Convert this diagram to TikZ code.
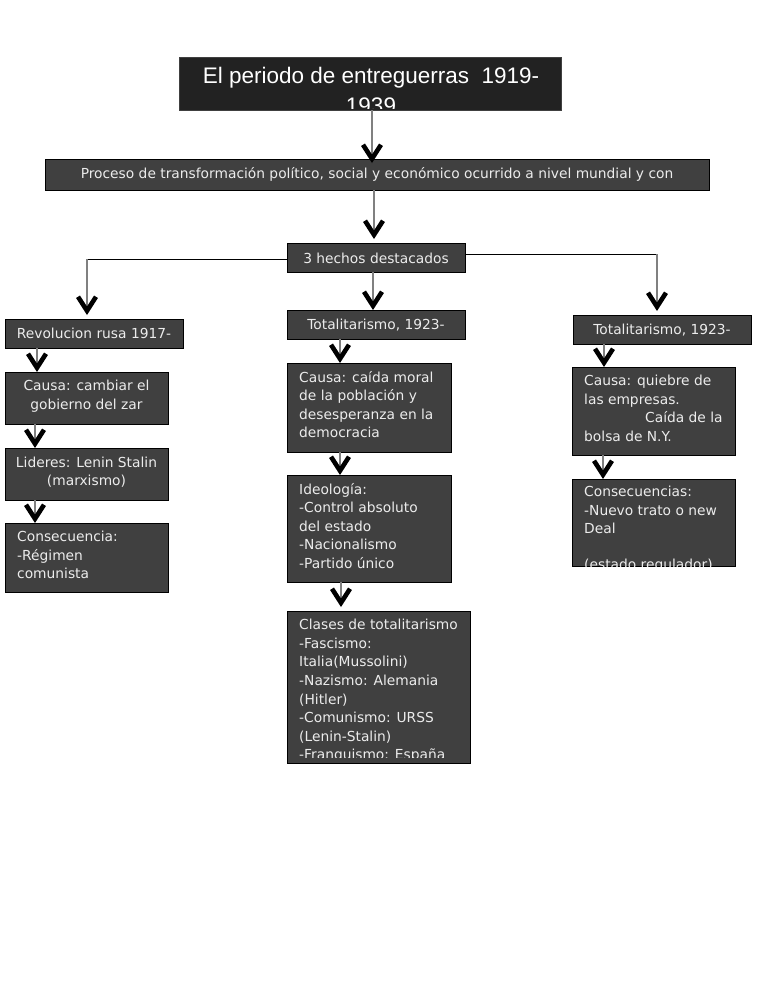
\documentclass[tikz,border=0pt]{standalone}
\usepackage{fontspec}
\setmainfont{DejaVu Sans}
\newfontfamily\titlefont{Liberation Sans}
\usetikzlibrary{arrows.meta,calc}
\definecolor{boxfill}{HTML}{404040}
\definecolor{titlefill}{HTML}{222222}
\definecolor{txtcol}{HTML}{ECECEC}
\tikzset{
  boxst/.style={draw=black, line width=0.9pt, fill=boxfill, inner sep=0pt, outer sep=0pt},
  titlest/.style={draw=black!75, line width=1pt, fill=titlefill, inner sep=0pt, outer sep=0pt},
  txt/.style={text=txtcol, inner sep=0pt, font=\fontsize{13.8}{18.5}\selectfont, align=left},
  ctxt/.style={text=txtcol, inner sep=0pt, font=\fontsize{13.8}{18.5}\selectfont, align=center},
  conn/.style={draw=black!50, line width=1.8pt, -{Straight Barb[length=14pt, width=18pt, line width=4.6pt, color=black]}},
  hline/.style={draw=black, line width=0.9pt},
}
\newcommand{\cbox}[6]{\node[#6, minimum width=#4pt, minimum height=#5pt, anchor=north west] (#1) at (#2,#3) {};}
\begin{document}
\begin{tikzpicture}[x=1pt,y=-1pt]
\useasboundingbox (0,0) rectangle (768,994);
\fill[white] (0,0) rectangle (768,994);
% boxes
\cbox{title}{179}{57}{382}{53}{titlest}
\cbox{proc}{45}{159}{664}{31}{boxst}
\cbox{hechos}{287}{243}{178}{29}{boxst}
\cbox{rev}{5}{319}{178}{29}{boxst}
\cbox{totC}{287}{310}{178}{29}{boxst}
\cbox{totR}{573}{315}{178}{29}{boxst}
\cbox{causaL}{5}{372}{163}{52}{boxst}
\cbox{lidL}{5}{448}{163}{52}{boxst}
\cbox{consL}{5}{523}{163}{69}{boxst}
\cbox{causaC}{287}{363}{164}{89}{boxst}
\cbox{ideoC}{287}{475}{164}{107}{boxst}
\cbox{claseC}{287}{611}{183}{152}{boxst}
\cbox{causaR}{572}{367}{163}{88}{boxst}
\cbox{consR}{572}{479}{163}{87}{boxst}
% texts
\begin{scope}\clip ([yshift=1.5]title.south west) rectangle (title.north east);
\node[text=white, inner sep=0pt, font=\titlefont\fontsize{22.5}{30}\selectfont, align=center, anchor=north] (titleT) at (371,67) {El periodo de entreguerras\ \ 1919-\\1939};
\end{scope}
\node[ctxt] (procT) at (377,174.5) {Proceso de transformación político, social y económico ocurrido a nivel mundial y con};
\node[ctxt] (hechosT) at (376,258) {3 hechos destacados};
\node[ctxt] (revT) at (94,333.5) {Revolucion rusa 1917-};
\node[ctxt] (totCT) at (376,325) {Totalitarismo, 1923-};
\node[ctxt] (totRT) at (662,330) {Totalitarismo, 1923-};
\node[ctxt] (causaLT) at (86.5,396) {Causa: cambiar el\\gobierno del zar};
\node[ctxt] (lidLT) at (86.5,472) {Lideres: Lenin Stalin\\(marxismo)};
\node[txt, anchor=north west] (consLT) at (17,531) {Consecuencia:\\-Régimen\\comunista};
\node[txt, anchor=north west] (causaCT) at (299,371) {Causa: caída moral\\de la población y\\desesperanza en la\\democracia};
\node[txt, anchor=north west] (ideoCT) at (299,483) {Ideología:\\-Control absoluto\\del estado\\-Nacionalismo\\-Partido único};
\begin{scope}\clip (claseC.south west) ++(0,-5.5) rectangle (claseC.north east);
\node[txt, anchor=north west, font=\fontsize{13.8}{18.6}\selectfont] (claseCT) at (299,619) {Clases de totalitarismo\\-Fascismo:\\Italia(Mussolini)\\-Nazismo: Alemania\\(Hitler)\\-Comunismo: URSS\\(Lenin-Stalin)\\-Franquismo: España};
\end{scope}
\node[txt, anchor=north west] (causaRT) at (584,375) {Causa: quiebre de\\las empresas.\\\hspace*{61pt}Caída de la\\bolsa de N.Y.};
\begin{scope}\clip (consR.south west) rectangle (consR.north east);
\node[txt, anchor=north west] (consRT) at (584,486) {Consecuencias:\\-Nuevo trato o new\\Deal\\[17pt](estado regulador)};
\end{scope}
% connectors
\draw[conn] ([xshift=2]title.south) -- ([xshift=-5,yshift=-4]proc.north);
\draw[conn] ([xshift=-3]proc.south) -- ([xshift=-2,yshift=4]hechos.north);
\draw[conn] ([xshift=-3]hechos.south) -- ([xshift=-3]totC.north);
\coordinate (topL) at ([xshift=-7,yshift=4]rev.north);
\coordinate (startL) at ([yshift=-1.5]hechos.west);
\coordinate (cornerL) at (startL -| topL);
\draw[hline] (startL) -- (cornerL);
\draw[conn] (cornerL) -- (topL);
\coordinate (topR) at ([xshift=-5,yshift=4]totR.north);
\coordinate (startR) at ([yshift=3.5]hechos.east);
\coordinate (cornerR) at (startR -| topR);
\draw[hline] (startR) -- (cornerR);
\draw[conn] (cornerR) -- (topR);
\draw[conn] ([xshift=-57]rev.south) -- ([xshift=-49.5]causaL.north);
\draw[conn] ([xshift=-51.5]causaL.south) -- ([xshift=-51.5]lidL.north);
\draw[conn] ([xshift=-51.5]lidL.south) -- ([xshift=-51.5]consL.north);
\draw[conn] ([xshift=-36]totC.south) -- ([xshift=-29]causaC.north);
\draw[conn] ([xshift=-29]causaC.south) -- ([xshift=-29]ideoC.north);
\draw[conn] ([xshift=-28]ideoC.south) -- ([xshift=-37.5,yshift=4]claseC.north);
\draw[conn] ([xshift=-58]totR.south) -- ([xshift=-49.5]causaR.north);
\draw[conn] ([xshift=-50.5]causaR.south) -- ([xshift=-50.5]consR.north);
\end{tikzpicture}
\end{document}
